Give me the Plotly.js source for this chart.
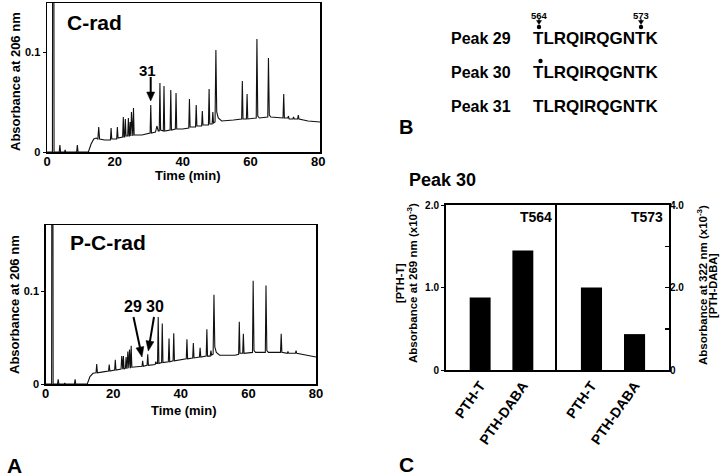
<!DOCTYPE html>
<html><head><meta charset="utf-8">
<script src="https://cdn.plot.ly/plotly-3.0.1.min.js"></script>
<style>html,body{margin:0;padding:0;background:#fff}#chart{width:720px;height:476px}</style>
</head><body><div id="chart"></div>
<script>
// ---- Panel A: chromatogram C-rad (time in min, absorbance at 206 nm) ----
const cradTime = [0,1.6,1.68,2.0,2.08,3.6,3.8,4.0,5.2,5.35,5.5,8.75,8.95,9.15,12.2,13.0,13.8,14.5,15.0,15.25,15.5,17,18.7,18.9,19.1,20.55,20.75,20.95,22.3,22.5,22.7,22.9,23.1,23.3,23.8,24.0,24.2,24.35,24.5,24.65,24.75,24.9,25.1,25.3,25.5,25.7,28,30.4,30.6,30.8,32,32.4,32.8,33.1,33.3,33.5,34.3,34.5,34.7,36.3,36.5,36.7,37.85,38.05,38.25,40,41.8,42.0,42.2,43.8,44.0,44.2,45.6,45.8,46.0,47.6,47.8,48.0,48.7,48.9,49.1,49.55,49.8,50.05,50.5,51.5,55,57.4,57.6,57.8,58.8,59.0,59.2,61.7,61.9,62.15,62.6,65.1,65.3,65.55,66,69.6,69.8,70.0,71,71.2,71.4,72.5,72.7,72.9,73.9,74.1,74.3,77,80.5];
const cradAbs  = [0,0,0.3,0.3,0,0,0.007,0,0,0.002,0,0,0.007,0,0,0.008,0.013,0.014,0.013,0.025,0.013,0.012,0.012,0.024,0.013,0.013,0.025,0.014,0.015,0.035,0.015,0.015,0.033,0.016,0.016,0.034,0.016,0.016,0.030,0.016,0.016,0.040,0.016,0.016,0.044,0.017,0.017,0.019,0.047,0.019,0.020,0.026,0.021,0.021,0.069,0.022,0.021,0.066,0.021,0.022,0.062,0.022,0.023,0.059,0.023,0.023,0.024,0.053,0.025,0.025,0.047,0.026,0.026,0.041,0.027,0.027,0.063,0.028,0.028,0.040,0.029,0.030,0.102,0.040,0.034,0.031,0.032,0.033,0.071,0.033,0.033,0.058,0.033,0.034,0.113,0.036,0.034,0.035,0.094,0.037,0.035,0.034,0.058,0.034,0.034,0.036,0.033,0.033,0.035,0.033,0.033,0.037,0.033,0.031,0.030];

// ---- Panel A: chromatogram P-C-rad ----
const pcradTime = [0,1.75,1.83,2.12,2.2,3.5,3.7,3.9,5.5,5.65,5.8,8.5,8.7,8.9,12.3,13.1,14.0,14.9,15.1,15.3,17,18.6,18.8,19.0,20.4,20.6,20.8,22.3,22.5,22.7,22.8,23.0,23.2,23.6,23.8,24.0,24.1,24.3,24.5,24.6,24.8,25.0,25.1,25.3,25.5,28.5,28.7,28.9,30.0,30.2,30.4,32.4,32.6,32.8,33.1,33.3,33.5,34.3,34.5,34.7,36.3,36.5,36.7,37.7,37.9,38.1,40,41.6,41.8,42.0,43.5,43.7,43.9,45.5,45.7,45.9,47.5,47.7,47.9,48.7,48.9,49.1,49.55,49.8,50.05,50.5,51.5,56,57.1,57.3,57.5,58.3,58.5,58.7,61.2,61.4,61.65,62.1,65.0,65.2,65.45,65.9,69.5,69.7,69.9,71.5,71.7,71.9,73.9,74.1,74.3,77,80];
const pcradAbs  = [0,0,0.3,0.3,0,0,0.005,0,0,0.001,0,0,0.005,0,0,0.008,0.0115,0.012,0.0215,0.012,0.013,0.014,0.021,0.014,0.015,0.026,0.015,0.016,0.030,0.016,0.016,0.030,0.016,0.017,0.029,0.017,0.017,0.035,0.017,0.017,0.037,0.017,0.017,0.041,0.018,0.019,0.025,0.019,0.020,0.032,0.020,0.021,0.024,0.022,0.022,0.072,0.022,0.023,0.065,0.023,0.024,0.049,0.024,0.025,0.0545,0.025,0.026,0.027,0.048,0.027,0.028,0.044,0.028,0.029,0.039,0.029,0.030,0.059,0.030,0.030,0.036,0.031,0.032,0.096,0.040,0.034,0.031,0.031,0.032,0.067,0.033,0.033,0.054,0.033,0.034,0.111,0.036,0.034,0.034,0.106,0.036,0.034,0.034,0.054,0.034,0.033,0.035,0.033,0.033,0.036,0.033,0.031,0.029];

// ---- Panel B ----
const peakNames = ['Peak 29','Peak 30','Peak 31'];
const sequences = ['TLRQIRQGNTK','TLRQIRQGNTK','TLRQIRQGNTK'];
const residueLabels = ['564','573'];

// ---- Panel C: Peak 30 ----
const barCategories = ['PTH-T','PTH-DABA'];
const siteNames = ['T564','T573'];
const pthT = [0.88, 1.0];        // absorbance at 269 nm (x10^-3)
const pthDABA = [2.9, 0.87];     // absorbance at 322 nm (x10^-3)

// helpers for paper coordinates (pixels -> paper fraction)
const W=720,H=476;
const px=x=>x/W, py=y=>1-y/H;
const black='#000';
const FONT='Liberation Sans, Arial, sans-serif';

const traces = [
  {x:cradTime,y:cradAbs,xaxis:'x',yaxis:'y',type:'scatter',mode:'lines',line:{color:'#111',width:1.1},hoverinfo:'skip'},
  {x:pcradTime,y:pcradAbs,xaxis:'x2',yaxis:'y2',type:'scatter',mode:'lines',line:{color:'#111',width:1.1},hoverinfo:'skip'},
  {x:[barCategories[0]],y:[pthT[0]],xaxis:'x3',yaxis:'y3',type:'bar',marker:{color:black,line:{width:0}},width:0.49,offset:-0.245},
  {x:[barCategories[1]],y:[pthDABA[0]],xaxis:'x3',yaxis:'y4',type:'bar',marker:{color:black,line:{width:0}},width:0.49,offset:-0.245},
  {x:[barCategories[0]],y:[pthT[1]],xaxis:'x4',yaxis:'y5',type:'bar',marker:{color:black,line:{width:0}},width:0.49,offset:-0.245},
  {x:[barCategories[1]],y:[pthDABA[1]],xaxis:'x4',yaxis:'y6',type:'bar',marker:{color:black,line:{width:0}},width:0.49,offset:-0.245}
];

const boxAxis = {showline:true,mirror:true,linecolor:black,showgrid:false,zeroline:false,fixedrange:true};

const layout = {
  width:W,height:H,margin:{l:0,r:0,t:0,b:0},paper_bgcolor:'#fff',plot_bgcolor:'#fff',
  showlegend:false,barmode:'overlay',
  font:{family:FONT,weight:'bold',color:black,size:12},
  xaxis:Object.assign({},boxAxis,{domain:[px(47),px(320)],range:[0,80.5],anchor:'y',tickvals:[0,20,40,60,80],ticks:'',ticklabelstandoff:-3,linewidth:1.5,tickfont:{size:13,weight:'bold'}}),
  yaxis:Object.assign({},boxAxis,{domain:[py(152),py(3)],range:[0,0.149],anchor:'x',tickvals:[0,0.1],ticktext:['0','0.1'],ticks:'outside',ticklen:3,tickcolor:black,linewidth:1.5,tickfont:{size:11,weight:'bold'}}),
  xaxis2:Object.assign({},boxAxis,{domain:[px(45.7),px(316)],range:[0,80],anchor:'y2',tickvals:[0,20,40,60,80],ticks:'',ticklabelstandoff:-3,linewidth:1.5,tickfont:{size:13,weight:'bold'}}),
  yaxis2:Object.assign({},boxAxis,{domain:[py(384),py(225)],range:[0,0.171],anchor:'x2',tickvals:[0,0.1],ticktext:['0','0.1'],ticks:'outside',ticklen:3,tickcolor:black,linewidth:1.5,tickfont:{size:11,weight:'bold'}}),
  xaxis3:Object.assign({},boxAxis,{domain:[px(446),px(557)],range:[-0.8,1.8],anchor:'y3',type:'category',categoryorder:'array',categoryarray:barCategories,ticks:'',tickangle:-55,linewidth:2,tickfont:{size:14,weight:'bold'}}),
  yaxis3:Object.assign({},boxAxis,{mirror:false,domain:[py(370),py(205)],range:[0,2],anchor:'x3',tickvals:[0,1,2],ticktext:['0','1.0','2.0'],ticks:'outside',ticklen:3,tickcolor:black,linewidth:2,tickfont:{size:10,weight:'bold'}}),
  yaxis4:{overlaying:'y3',side:'right',range:[0,4],anchor:'x3',visible:false,fixedrange:true},
  xaxis4:Object.assign({},boxAxis,{domain:[px(557),px(669)],range:[-0.8,1.8],anchor:'y5',type:'category',categoryorder:'array',categoryarray:barCategories,ticks:'',tickangle:-55,linewidth:2,tickfont:{size:14,weight:'bold'}}),
  yaxis5:Object.assign({},boxAxis,{domain:[py(370),py(205)],range:[0,2],anchor:'x4',showticklabels:false,ticks:'',linewidth:2}),
  yaxis6:{overlaying:'y5',side:'right',range:[0,4],anchor:'x4',showline:false,showgrid:false,zeroline:false,tickmode:'array',tickvals:[0,2,4],ticktext:['0','2.0','4.0'],ticks:'inside',ticklen:4,tickwidth:1.5,tickcolor:black,
          minor:{tickmode:'array',tickvals:[1,3],ticks:'inside',ticklen:4,tickwidth:1.5,tickcolor:black,showgrid:false},
          tickfont:{size:10,weight:'bold'},fixedrange:true},
  annotations:[],
  shapes:[]
};

const A = layout.annotations, S = layout.shapes;
function txt(x,y,text,size,opts){A.push(Object.assign({xref:'paper',yref:'paper',x:px(x),y:py(y),text:text,showarrow:false,font:{size:size,family:FONT,weight:'bold',color:black},xanchor:'center',yanchor:'middle'},opts||{}));}
// arrow drawn as line + filled head (pixel positions of the figure)
function arrow(x0,y0,x1,y1,w,hl,hw){
  const dx=x1-x0, dy=y1-y0, L=Math.hypot(dx,dy), ux=dx/L, uy=dy/L;
  const bx=x1-ux*hl, by=y1-uy*hl;
  S.push({type:'line',xref:'paper',yref:'paper',x0:px(x0),y0:py(y0),x1:px(bx+ux*0.5),y1:py(by+uy*0.5),line:{color:black,width:w}});
  const p1=[bx-uy*hw,by+ux*hw], p2=[bx+uy*hw,by-ux*hw];
  S.push({type:'path',xref:'paper',yref:'paper',path:`M ${px(x1)} ${py(y1)} L ${px(p1[0])} ${py(p1[1])} L ${px(p2[0])} ${py(p2[1])} Z`,fillcolor:black,line:{color:black,width:0.5}});
}

// Panel A texts
txt(65,22,'C-rad',21,{xanchor:'left'});
txt(68,243,'P-C-rad',21,{xanchor:'left'});
txt(15,82,'Absorbance at 206 nm',13,{textangle:-90});
txt(14,305,'Absorbance at 206 nm',13,{textangle:-90});
txt(188,175,'Time (min)',13);
txt(184,410,'Time (min)',13);
txt(14,465,'A',21);
// peak markers
txt(147,70,'31',15);
arrow(150.7,77,150.7,101,2,9,4);
txt(133,306,'29',16);
txt(155,306,'30',16);
arrow(133.5,317,142,357,2,10,4);
arrow(154,317,148.3,351,2,10,4);

// Panel B
const rowY=[38.5,72.5,107];
peakNames.forEach((n,i)=>{txt(449,rowY[i],n,16,{xanchor:'left'}); txt(531,rowY[i],sequences[i],17,{xanchor:'left'});});
const resX=[539,641];
residueLabels.forEach((r,i)=>{
  txt(resX[i],15,r,9.5);
  arrow(resX[i],19,resX[i],24.5,1.2,4,2.5);
});
function dot(x,y){S.push({type:'circle',xref:'paper',yref:'paper',x0:px(x-2.2),x1:px(x+2.2),y0:py(y+2.2),y1:py(y-2.2),fillcolor:black,line:{width:0}});}
dot(539,27); dot(641,27); dot(540.5,61);
txt(406,127,'B',20);

// Panel C
txt(407,180,'Peak 30',18,{xanchor:'left'});
txt(554,217,siteNames[0],14,{xanchor:'right'});
txt(665,217,siteNames[1],14,{xanchor:'right'});
txt(400,283,'[PTH-T]',11,{textangle:-90});
txt(412,283,'Absorbance at 269 nm (x10<sup>-3</sup>)',11.5,{textangle:-90});
txt(702,285,'Absorbance at 322 nm (x10<sup>-3</sup>)',11.5,{textangle:-90});
txt(713,286,'[PTH-DABA]',11,{textangle:-90});
txt(406,464,'C',21);

Plotly.newPlot('chart',traces,layout,{displayModeBar:false,staticPlot:true});
</script></body></html>
